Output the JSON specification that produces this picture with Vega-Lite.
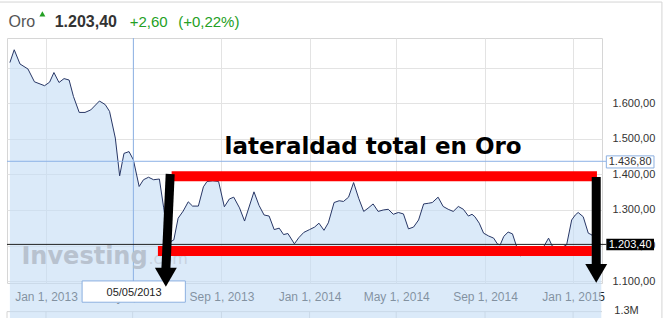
{
  "$schema": "https://vega.github.io/schema/vega-lite/v6.json",
  "width": 595,
  "height": 245,
  "autosize": {"type": "none"},
  "padding": {"left": 7, "top": 38, "right": 68, "bottom": 35},
  "background": "white",
  "config": {
    "locale": {"number": {"decimal": ",", "thousands": ".", "grouping": [3], "currency": ["", " €"]}},
    "view": {"stroke": "#d6d6d6"},
    "font": "Liberation Sans"
  },
  "datasets": {
    "price": [
      {"date": "2012-11-12", "price": 1714}, {"date": "2012-11-18", "price": 1750}, {"date": "2012-11-26", "price": 1710},
      {"date": "2012-12-07", "price": 1696}, {"date": "2012-12-16", "price": 1660}, {"date": "2012-12-30", "price": 1649},
      {"date": "2013-01-06", "price": 1659}, {"date": "2013-01-12", "price": 1686}, {"date": "2013-01-19", "price": 1658},
      {"date": "2013-01-26", "price": 1669}, {"date": "2013-02-02", "price": 1665}, {"date": "2013-02-08", "price": 1619},
      {"date": "2013-02-16", "price": 1574}, {"date": "2013-02-24", "price": 1574}, {"date": "2013-03-04", "price": 1581},
      {"date": "2013-03-16", "price": 1606}, {"date": "2013-03-24", "price": 1596}, {"date": "2013-03-30", "price": 1577},
      {"date": "2013-04-07", "price": 1502}, {"date": "2013-04-13", "price": 1396}, {"date": "2013-04-19", "price": 1459},
      {"date": "2013-04-26", "price": 1464}, {"date": "2013-05-02", "price": 1441}, {"date": "2013-05-10", "price": 1366},
      {"date": "2013-05-16", "price": 1385}, {"date": "2013-05-23", "price": 1392}, {"date": "2013-05-30", "price": 1385},
      {"date": "2013-06-07", "price": 1387}, {"date": "2013-06-13", "price": 1306}, {"date": "2013-06-20", "price": 1208},
      {"date": "2013-06-27", "price": 1216}, {"date": "2013-07-03", "price": 1277}, {"date": "2013-07-10", "price": 1297},
      {"date": "2013-07-17", "price": 1323}, {"date": "2013-07-23", "price": 1311}, {"date": "2013-07-31", "price": 1311},
      {"date": "2013-08-07", "price": 1365}, {"date": "2013-08-12", "price": 1380}, {"date": "2013-08-20", "price": 1382},
      {"date": "2013-08-28", "price": 1380}, {"date": "2013-09-05", "price": 1309}, {"date": "2013-09-12", "price": 1331},
      {"date": "2013-09-18", "price": 1336}, {"date": "2013-09-26", "price": 1306}, {"date": "2013-10-03", "price": 1269},
      {"date": "2013-10-16", "price": 1351}, {"date": "2013-10-23", "price": 1313}, {"date": "2013-10-30", "price": 1286},
      {"date": "2013-11-06", "price": 1283}, {"date": "2013-11-13", "price": 1245}, {"date": "2013-11-20", "price": 1249},
      {"date": "2013-11-26", "price": 1231}, {"date": "2013-12-02", "price": 1234}, {"date": "2013-12-11", "price": 1205},
      {"date": "2013-12-17", "price": 1222}, {"date": "2013-12-24", "price": 1237}, {"date": "2014-01-01", "price": 1245},
      {"date": "2014-01-08", "price": 1252}, {"date": "2014-01-14", "price": 1263}, {"date": "2014-01-21", "price": 1243},
      {"date": "2014-01-27", "price": 1264}, {"date": "2014-02-04", "price": 1321}, {"date": "2014-02-11", "price": 1326},
      {"date": "2014-02-17", "price": 1324}, {"date": "2014-02-24", "price": 1336}, {"date": "2014-03-03", "price": 1377},
      {"date": "2014-03-10", "price": 1333}, {"date": "2014-03-17", "price": 1296}, {"date": "2014-03-23", "price": 1305},
      {"date": "2014-03-30", "price": 1317}, {"date": "2014-04-06", "price": 1296}, {"date": "2014-04-13", "price": 1300},
      {"date": "2014-04-20", "price": 1302}, {"date": "2014-04-27", "price": 1288}, {"date": "2014-05-04", "price": 1293},
      {"date": "2014-05-11", "price": 1289}, {"date": "2014-05-18", "price": 1247}, {"date": "2014-05-25", "price": 1252},
      {"date": "2014-06-01", "price": 1272}, {"date": "2014-06-08", "price": 1317}, {"date": "2014-06-15", "price": 1319},
      {"date": "2014-06-20", "price": 1321}, {"date": "2014-06-28", "price": 1336}, {"date": "2014-07-05", "price": 1310},
      {"date": "2014-07-12", "price": 1302}, {"date": "2014-07-19", "price": 1296}, {"date": "2014-07-26", "price": 1310},
      {"date": "2014-08-02", "price": 1302}, {"date": "2014-08-09", "price": 1283}, {"date": "2014-08-14", "price": 1288},
      {"date": "2014-08-18", "price": 1281}, {"date": "2014-08-24", "price": 1263}, {"date": "2014-08-30", "price": 1235},
      {"date": "2014-09-06", "price": 1227}, {"date": "2014-09-13", "price": 1221}, {"date": "2014-09-18", "price": 1205},
      {"date": "2014-09-22", "price": 1202}, {"date": "2014-09-27", "price": 1226}, {"date": "2014-10-03", "price": 1238},
      {"date": "2014-10-09", "price": 1233}, {"date": "2014-10-14", "price": 1202}, {"date": "2014-10-20", "price": 1171},
      {"date": "2014-10-28", "price": 1182}, {"date": "2014-11-05", "price": 1188}, {"date": "2014-11-14", "price": 1191},
      {"date": "2014-11-21", "price": 1196}, {"date": "2014-11-28", "price": 1221}, {"date": "2014-12-03", "price": 1199},
      {"date": "2014-12-10", "price": 1194}, {"date": "2014-12-17", "price": 1196}, {"date": "2014-12-23", "price": 1202},
      {"date": "2014-12-30", "price": 1272}, {"date": "2015-01-04", "price": 1286}, {"date": "2015-01-08", "price": 1293},
      {"date": "2015-01-15", "price": 1281}, {"date": "2015-01-22", "price": 1235}, {"date": "2015-01-27", "price": 1230},
      {"date": "2015-02-02", "price": 1210}, {"date": "2015-02-09", "price": 1203}
    ],
    "frame": [
      {"date": "2012-10-29", "date2": "2015-05-04", "price": 1884, "price2": 1884},
      {"date": "2015-05-04", "date2": "2015-05-04", "price": 1884, "price2": 990},
      {"date": "2012-11-08", "date2": "2015-02-10", "price": 1014.6, "price2": 1014.6},
      {"date": "2012-11-08", "date2": "2012-11-08", "price": 1014.6, "price2": 990},
      {"date": "2013-01-01", "date2": "2013-01-01", "price": 1014.6, "price2": 990},
      {"date": "2013-05-01", "date2": "2013-05-01", "price": 1014.6, "price2": 990},
      {"date": "2013-09-01", "date2": "2013-09-01", "price": 1014.6, "price2": 990},
      {"date": "2014-01-01", "date2": "2014-01-01", "price": 1014.6, "price2": 990},
      {"date": "2014-05-01", "date2": "2014-05-01", "price": 1014.6, "price2": 990},
      {"date": "2014-09-01", "date2": "2014-09-01", "price": 1014.6, "price2": 990},
      {"date": "2015-01-01", "date2": "2015-01-01", "price": 1014.6, "price2": 990}
    ],
    "cross": [
      {"date": "2013-05-02", "date2": "2013-05-02", "price": 1783, "price2": 1095},
      {"date": "2012-11-08", "date2": "2015-02-16", "price": 1436.8, "price2": 1436.8}
    ],
    "current": [
      {"date": "2012-11-08", "date2": "2015-02-16", "price": 1203.4, "price2": 1203.4}
    ],
    "redbars": [
      {"date": "2013-06-24", "date2": "2015-02-03", "price": 1395, "price2": 1395},
      {"date": "2013-06-05", "date2": "2015-01-27", "price": 1185, "price2": 1185}
    ],
    "shafts": [
      {"date": "2013-06-22", "date2": "2013-06-16", "price": 1401, "price2": 1132},
      {"date": "2015-02-02", "date2": "2015-02-02", "price": 1393, "price2": 1140}
    ],
    "heads": [
      {"date": "2013-06-16", "price": 1111},
      {"date": "2015-02-02", "price": 1122}
    ],
    "headline": [{"date": "2014-03-30", "price": 1457, "label": "lateraldad total en Oro"}],
    "wm1": [{"date": "2012-11-28", "price": 1148, "label": "Investing"}],
    "wm2": [{"date": "2013-05-23", "price": 1148, "label": ".com"}],
    "datebox": [{"date": "2013-02-20", "date2": "2013-07-13", "price": 1100.8, "price2": 1041}],
    "datelabel": [{"date": "2013-05-03", "price": 1066, "label": "05/05/2013"}],
    "hoverbox": [{"date": "2015-02-16", "date2": "2015-04-23", "price": 1452, "price2": 1418}],
    "hoverlabel": [{"date": "2015-03-21", "price": 1435, "label": "1.436,80"}],
    "lastbox": [{"date": "2015-02-16", "date2": "2015-04-23", "price": 1219, "price2": 1187}],
    "lastlabel": [{"date": "2015-03-21", "price": 1203, "label": "1.203,40"}],
    "vollabel": [{"date": "2015-02-27", "price": 1017, "label": "1.3M"}],
    "hname": [{"date": "2012-11-10", "price": 1815, "label": "Oro"}],
    "hvalue": [{"date": "2013-01-13", "price": 1815, "label": "1.203,40"}],
    "hchange": [
      {"date": "2013-04-27", "price": 1815, "label": "+2,60"},
      {"date": "2013-07-03", "price": 1815, "label": "(+0,22%)"}
    ],
    "hmarker": [{"date": "2012-12-27", "price": 1851}]
  },
  "encoding": {
    "x": {
      "field": "date", "type": "temporal",
      "scale": {"domain": [{"year": 2012, "month": 11, "date": 8}, {"year": 2015, "month": 2, "date": 10}]},
      "axis": {
        "orient": "bottom", "title": null,
        "values": [
          {"year": 2013, "month": 1, "date": 1}, {"year": 2013, "month": 5, "date": 1}, {"year": 2013, "month": 9, "date": 1},
          {"year": 2014, "month": 1, "date": 1}, {"year": 2014, "month": 5, "date": 1}, {"year": 2014, "month": 9, "date": 1},
          {"year": 2015, "month": 1, "date": 1}
        ],
        "format": "%b %-d, %Y", "labelFont": "Liberation Sans", "labelFontSize": 12, "labelColor": "#222",
        "labelPadding": 8, "ticks": false, "domain": false, "grid": true, "gridColor": "#e3e3e3",
        "labelOverlap": false, "labelFlush": false
      }
    },
    "y": {
      "field": "price", "type": "quantitative",
      "scale": {"domain": [1095, 1783], "zero": false, "nice": false},
      "axis": {
        "orient": "right", "title": null, "values": [1100, 1200, 1300, 1400, 1500, 1600, 1700],
        "format": ",.2f", "labelExpr": "datum.value >= 1700 ? '' : datum.label",
        "labelFont": "Liberation Sans", "labelFontSize": 11, "labelColor": "#333", "labelPadding": 10,
        "ticks": false, "domain": false, "grid": true, "gridColor": "#e3e3e3"
      }
    }
  },
  "layer": [
    {"data": {"name": "frame"}, "mark": {"type": "rule", "color": "#d4d4d4", "strokeWidth": 1},
     "encoding": {"x2": {"field": "date2"}, "y2": {"field": "price2"}}},
    {"data": {"name": "price"},
     "mark": {"type": "area", "color": "#c3dcf5", "opacity": 1, "fillOpacity": 0.6,
              "line": {"color": "#283766", "strokeWidth": 1}}},
    {"data": {"name": "cross"}, "mark": {"type": "rule", "color": "#8db2e6", "strokeWidth": 1},
     "encoding": {"x2": {"field": "date2"}, "y2": {"field": "price2"}}},
    {"data": {"name": "current"}, "mark": {"type": "rule", "color": "#222222", "strokeWidth": 1},
     "encoding": {"x2": {"field": "date2"}, "y2": {"field": "price2"}}},
    {"data": {"name": "wm1"},
     "mark": {"type": "text", "font": "DejaVu Sans", "fontWeight": "bold", "fontSize": 24, "color": "#b8c2cf", "align": "left", "baseline": "alphabetic"},
     "encoding": {"text": {"field": "label"}}},
    {"data": {"name": "wm2"},
     "mark": {"type": "text", "font": "DejaVu Sans", "fontSize": 16, "color": "#c8d2df", "align": "left", "baseline": "alphabetic"},
     "encoding": {"text": {"field": "label"}}},
    {"data": {"name": "headline"},
     "mark": {"type": "text", "font": "DejaVu Sans", "fontWeight": "bold", "fontSize": 23, "color": "#000000", "align": "center", "baseline": "alphabetic"},
     "encoding": {"text": {"field": "label"}}},
    {"data": {"name": "redbars"}, "mark": {"type": "rule", "color": "#ff0000", "strokeWidth": 10, "strokeCap": "butt"},
     "encoding": {"x2": {"field": "date2"}, "y2": {"field": "price2"}}},
    {"data": {"name": "datebox"}, "mark": {"type": "rect", "fill": "white", "stroke": "#8cb0e0", "strokeWidth": 1},
     "encoding": {"x2": {"field": "date2"}, "y2": {"field": "price2"}}},
    {"data": {"name": "datelabel"},
     "mark": {"type": "text", "font": "Liberation Sans", "fontSize": 11, "color": "#222", "align": "center", "baseline": "middle"},
     "encoding": {"text": {"field": "label"}}},
    {"data": {"name": "hoverbox"}, "mark": {"type": "rect", "fill": "white", "stroke": "#8cb0e0", "strokeWidth": 1},
     "encoding": {"x2": {"field": "date2"}, "y2": {"field": "price2"}}},
    {"data": {"name": "hoverlabel"},
     "mark": {"type": "text", "font": "Liberation Sans", "fontSize": 11, "color": "#333", "align": "center", "baseline": "middle"},
     "encoding": {"text": {"field": "label"}}},
    {"data": {"name": "lastbox"}, "mark": {"type": "rect", "fill": "#000000"},
     "encoding": {"x2": {"field": "date2"}, "y2": {"field": "price2"}}},
    {"data": {"name": "lastlabel"},
     "mark": {"type": "text", "font": "Liberation Sans", "fontSize": 11, "color": "#ffffff", "align": "center", "baseline": "middle"},
     "encoding": {"text": {"field": "label"}}},
    {"data": {"name": "vollabel"},
     "mark": {"type": "text", "font": "Liberation Sans", "fontSize": 11, "color": "#333", "align": "left", "baseline": "middle"},
     "encoding": {"text": {"field": "label"}}},
    {"data": {"name": "shafts"}, "mark": {"type": "rule", "color": "#000000", "strokeWidth": 9, "strokeCap": "butt"},
     "encoding": {"x2": {"field": "date2"}, "y2": {"field": "price2"}}},
    {"data": {"name": "heads"},
     "mark": {"type": "point", "shape": "triangle-down", "filled": true, "color": "#000000", "size": 480, "opacity": 1}},
    {"data": {"name": "hname"},
     "mark": {"type": "text", "font": "Liberation Sans", "fontSize": 16, "color": "#555555", "align": "left", "baseline": "alphabetic"},
     "encoding": {"text": {"field": "label"}}},
    {"data": {"name": "hvalue"},
     "mark": {"type": "text", "font": "Liberation Sans", "fontWeight": "bold", "fontSize": 16, "color": "#333333", "align": "left", "baseline": "alphabetic"},
     "encoding": {"text": {"field": "label"}}},
    {"data": {"name": "hchange"},
     "mark": {"type": "text", "font": "Liberation Sans", "fontSize": 15, "color": "#24a024", "align": "left", "baseline": "alphabetic"},
     "encoding": {"text": {"field": "label"}}},
    {"data": {"name": "hmarker"},
     "mark": {"type": "point", "shape": "triangle-up", "filled": true, "color": "#24a024", "size": 36, "opacity": 1}}
  ]
}
